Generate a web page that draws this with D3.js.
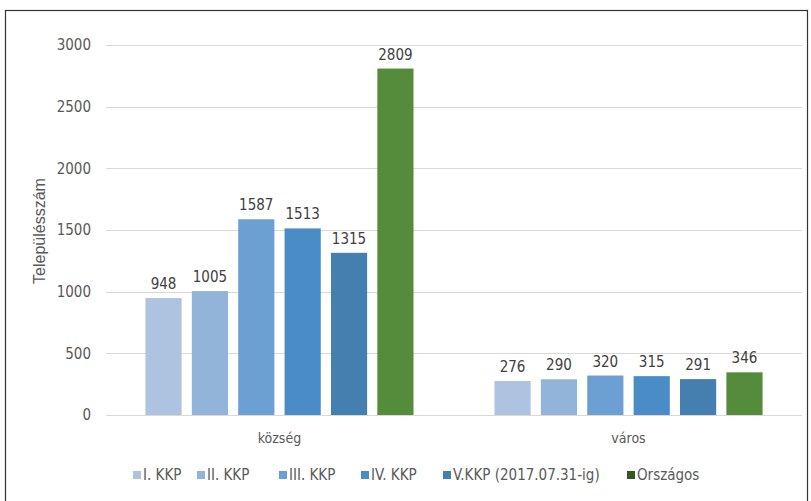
<!DOCTYPE html>
<html>
<head>
<meta charset="utf-8">
<script src="https://cdn.jsdelivr.net/npm/d3@7"></script>
<style>
  body { margin: 0; background: #fff; }
  text { font-family: "DejaVu Sans Condensed", "Liberation Sans Narrow", "Open Sans", sans-serif; }
</style>
</head>
<body>
<script>
// data
var categories = ['község', 'város'];
var series = ['I. KKP', 'II. KKP', 'III. KKP', 'IV. KKP', 'V.KKP (2017.07.31-ig)', 'Országos'];
var kozsegValues = [948, 1005, 1587, 1513, 1315, 2809];
var varosValues = [276, 290, 320, 315, 291, 346];
var yTicks = [0, 500, 1000, 1500, 2000, 2500, 3000];
var colors = ['#aec3e0', '#93b4d9', '#6c9fd2', '#4a8cc6', '#447fb0', '#548c3c'];
var legendColors = ['#aec3e0', '#93b4d9', '#6c9fd2', '#4a8cc6', '#447fb0', '#2f5a22'];

var rows = [kozsegValues, varosValues];

var width = 811, height = 501;
var svg = d3.select('body').append('svg').attr('width', width).attr('height', height);

// frame
svg.append('rect').attr('x', 5.5).attr('y', 10.5).attr('width', 802).attr('height', 495)
  .attr('fill', 'none').attr('stroke', '#333').attr('stroke-width', 1.2);

var x0 = d3.scaleBand().domain(categories).range([106, 802]).paddingInner(0.232).paddingOuter(0.113);
var x1 = d3.scaleBand().domain(series).range([0, x0.bandwidth()]).paddingInner(0.22).paddingOuter(0);
var y = d3.scaleLinear().domain([0, 3000]).range([415, 45]);

// gridlines
svg.append('g').selectAll('line').data(yTicks).enter().append('line')
  .attr('x1', 106).attr('x2', 802)
  .attr('y1', function(d) { return Math.round(y(d)) + 0.5; })
  .attr('y2', function(d) { return Math.round(y(d)) + 0.5; })
  .attr('stroke', '#d9d9d9').attr('stroke-width', 1);

// y axis labels
var yAxis = d3.axisLeft(y).tickValues(yTicks).tickSize(0).tickPadding(0).tickFormat(d3.format('d'));
var ga = svg.append('g').attr('transform', 'translate(91,0)').call(yAxis);
ga.select('.domain').remove();
ga.selectAll('text').attr('fill', '#595959').style('font-size', '15px')
  .style('font-family', '"DejaVu Sans Condensed", sans-serif');

svg.append('text')
  .attr('transform', 'translate(45,231) rotate(-90)')
  .attr('text-anchor', 'middle')
  .attr('fill', '#595959')
  .style('font-family', '"Liberation Sans", Arial, sans-serif')
  .style('font-size', '16px')
  .text('Településszám');

// bars
var groups = svg.append('g').selectAll('g').data(categories).enter().append('g')
  .attr('transform', function(d) { return 'translate(' + x0(d) + ',0)'; });

groups.selectAll('rect').data(function(d, i) {
  return rows[i].map(function(v, j) { return { s: series[j], v: v, c: colors[j] }; });
}).enter().append('rect')
  .attr('x', function(d) { return x1(d.s); })
  .attr('width', x1.bandwidth())
  .attr('y', function(d) { return y(d.v); })
  .attr('height', function(d) { return y(0) - y(d.v); })
  .attr('fill', function(d) { return d.c; });

groups.selectAll('text.val').data(function(d, i) {
  return rows[i].map(function(v, j) { return { s: series[j], v: v }; });
}).enter().append('text')
  .attr('class', 'val')
  .attr('x', function(d) { return x1(d.s) + x1.bandwidth() / 2; })
  .attr('y', function(d) { return y(d.v) - 9; })
  .attr('text-anchor', 'middle')
  .attr('fill', '#404040')
  .style('font-size', '15px')
  .text(function(d) { return d.v; });

// category labels
svg.append('g').selectAll('text').data(categories).enter().append('text')
  .attr('x', function(d) { return x0(d) + x0.bandwidth() / 2; })
  .attr('y', 443)
  .attr('text-anchor', 'middle')
  .attr('fill', '#595959')
  .style('font-size', '14px')
  .text(function(d) { return d; });

// legend
var legendX = [133, 197, 279, 361, 443, 627];
var lg = svg.append('g').selectAll('g').data(series).enter().append('g')
  .attr('transform', function(d, i) { return 'translate(' + legendX[i] + ',475)'; });
lg.append('rect').attr('x', 0).attr('y', -4).attr('width', 8).attr('height', 8)
  .attr('fill', function(d, i) { return legendColors[i]; });
lg.append('text').attr('x', 10).attr('y', 5)
  .attr('fill', '#595959')
  .style('font-size', '15px')
  .text(function(d) { return d; });
</script>
</body>
</html>
